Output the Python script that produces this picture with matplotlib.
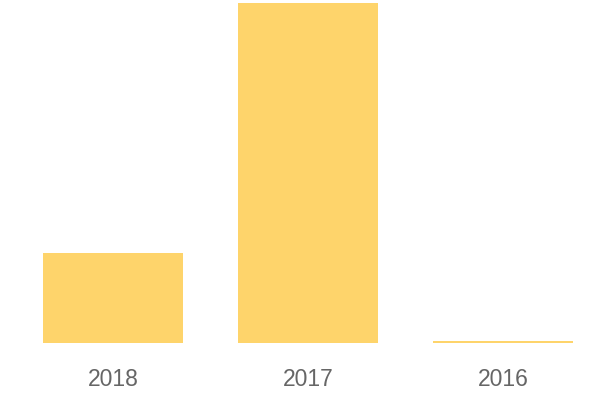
import matplotlib
matplotlib.use("Agg")
import matplotlib.pyplot as plt

categories = ["2018", "2017", "2016"]
values = [90.5, 340.3, 1.8]

bar_color = "#fed46b"

fig = plt.figure(figsize=(6, 4), dpi=100)
ax = fig.add_axes([15.5 / 600, 57 / 400, 585 / 600, 343 / 400])
x = range(len(categories))
ax.bar(x, values, width=140 / 195, color=bar_color)
ax.set_xlim(-0.5, 2.5)
ax.set_ylim(0, 343)
ax.set_xticks(list(x))
ax.set_xticklabels(categories, family="Liberation Sans", fontsize=16.5, color="#666666")
ax.tick_params(axis="x", length=0, pad=18)
ax.set_yticks([])
for s in ax.spines.values():
    s.set_visible(False)
fig.savefig("out.png", dpi=100)
